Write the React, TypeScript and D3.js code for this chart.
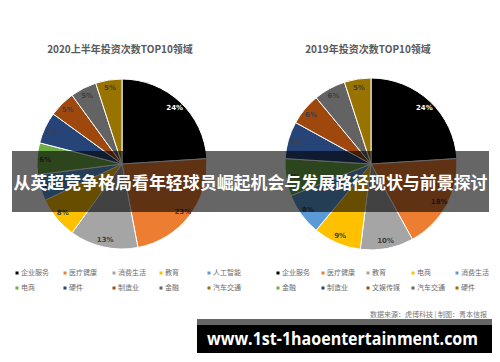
import React from "react";
import * as d3 from "d3";

const leftTitle = "2020上半年投资次数TOP10领域";
const leftCategories = ["企业服务", "医疗健康", "消费生活", "教育", "人工智能", "电商", "硬件", "制造业", "金融", "汽车交通"];
const leftValues = [24, 23, 13, 8, 5, 6, 6, 5, 5, 5];

const rightTitle = "2019年投资次数TOP10领域";
const rightCategories = ["企业服务", "医疗健康", "教育", "电商", "消费生活", "金融", "制造业", "文娱传媒", "汽车交通", "硬件"];
const rightValues = [24, 18, 10, 9, 8, 7, 7, 6, 6, 5];

const palette = ["#000000", "#ED7D31", "#A5A5A5", "#FFC000", "#5B9BD5", "#70AD47", "#264478", "#9E480E", "#636363", "#997300"];

const headline = "从英超竞争格局看年轻球员崛起机会与发展路径现状与前景探讨";
const sourceText = "数据来源：虎博科技 | 制图：青本信报";
const urlText = "www.1st-1haoentertainment.com";

const CJK = "'Noto Sans CJK SC', 'Noto Sans', sans-serif";

function Pie({ cx, cy, r, title, titleX, categories, values, legendX }: any) {
  const pie = d3.pie<number>().sort(null).value((d) => d);
  const arcs = pie(values);
  const arc = d3.arc<any>().innerRadius(0).outerRadius(r);
  const labelArc = d3.arc<any>().innerRadius(r * 0.905).outerRadius(r * 0.905);
  const color = d3.scaleOrdinal<number, string>().domain(d3.range(10)).range(palette);
  return (
    <g>
      <text x={titleX} y={53} textAnchor="middle" fontFamily={CJK} fontWeight="bold" fontSize={10} fill="#595959">{title}</text>
      <g transform={`translate(${cx},${cy})`}>
        {arcs.map((a, i) => (
          <path key={i} d={arc(a) as string} fill={color(i)} stroke="#ffffff" strokeWidth={1} />
        ))}
        {arcs.map((a, i) => {
          const [x, y] = labelArc.centroid(a);
          return (
            <text key={"l" + i} x={x} y={y} dy="0.35em" textAnchor="middle" fontFamily="'DejaVu Sans', sans-serif" fontWeight="bold" fontSize={7} fill={i === 0 ? "#ffffff" : "#404040"}>
              {values[i]}%
            </text>
          );
        })}
      </g>
      {categories.map((c: string, i: number) => {
        const col = i % 5;
        const row = Math.floor(i / 5);
        const x = legendX[col];
        const y = 273 + row * 15;
        return (
          <g key={"g" + i}>
            <rect x={x - 1.5} y={y - 1.5} width={3} height={3} fill={color(i)} />
            <text x={x + 4} y={y} dy="0.35em" fontFamily={CJK} fontSize={7} fill="#6b6b6b">{c}</text>
          </g>
        );
      })}
    </g>
  );
}

export default function App() {
  return (
    <svg width={500} height={362} style={{ position: "absolute", left: 0, top: 0, background: "#ffffff" }}>
      <rect width={500} height={362} fill="#ffffff" />
      <Pie cx={122} cy={164} r={85} title={leftTitle} titleX={120} categories={leftCategories} values={leftValues} legendX={[17, 65, 114, 161, 209]} />
      <Pie cx={371} cy={164} r={86} title={rightTitle} titleX={368} categories={rightCategories} values={rightValues} legendX={[278, 323, 368, 413, 457]} />
      <text x={487} y={317} textAnchor="end" fontFamily={CJK} fontSize={7} fill="#777777">{sourceText}</text>
      <rect x={12} y={151} width={477} height={61} fill="#000000" fillOpacity={0.6} />
      <text x={250.5} y={189} textAnchor="middle" fontFamily={CJK} fontWeight="bold" fontSize={17} fill="#ffffff" textLength={474} lengthAdjust="spacingAndGlyphs">{headline}</text>
      <rect x={197} y={319} width={295} height={7} fill="#666666" />
      <rect x={197} y={325} width={295} height={28} fill="#000000" />
      <text x={207} y={345} fontFamily="'Open Sans', 'DejaVu Sans', sans-serif" fontWeight="bold" fontSize={18} fill="#ffffff" textLength={271} lengthAdjust="spacingAndGlyphs">{urlText}</text>
    </svg>
  );
}
